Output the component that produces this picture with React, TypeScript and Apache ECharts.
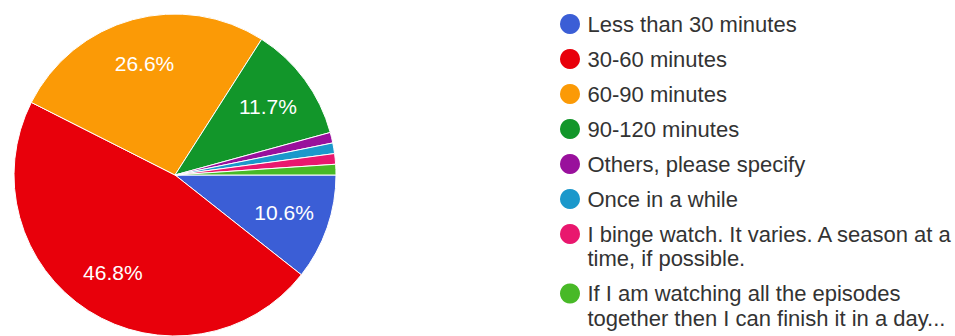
import React, { useEffect, useRef } from "react";
import * as echarts from "echarts";

// Answers to "How long does it take you to watch a season?" (response counts)
const categories = [
  "Less than 30 minutes",
  "30-60 minutes",
  "60-90 minutes",
  "90-120 minutes",
  "Others, please specify",
  "Once in a while",
  "I binge watch. It varies. A season at a\ntime, if possible.",
  "If I am watching all the episodes\ntogether then I can finish it in a day...",
];
const counts = [10, 44, 25, 11, 1, 1, 1, 1];
const colors = [
  "#3b5ed6",
  "#e8000b",
  "#fb9a06",
  "#12962a",
  "#99109c",
  "#1b98cb",
  "#e9176e",
  "#48b927",
];

const FONT = "'Liberation Sans', Arial, Helvetica, sans-serif";
const LINE = 24.5;

export default function App() {
  const ref = useRef<HTMLDivElement>(null);

  useEffect(() => {
    document.body.style.margin = "0";
    const chart = echarts.init(ref.current!, null, { renderer: "svg" });
    const total = counts.reduce((a, b) => a + b, 0);
    const pieData = categories.map((name, i) => ({
      name,
      value: counts[i],
      itemStyle: { color: colors[i] },
    }));

    chart.setOption({
      animation: false,
      backgroundColor: "#ffffff",
      legend: {
        orient: "vertical",
        left: 560,
        top: 13,
        padding: 0,
        itemGap: 13,
        itemWidth: 25,
        itemHeight: 20,
        icon: "circle",
        itemStyle: { borderWidth: 0 },
        selectedMode: false,
        data: categories.map((name) =>
          name.includes("\n")
            ? { name, textStyle: { padding: [LINE, 0, 0, 0] } }
            : { name }
        ),
        formatter: (name: string) =>
          name
            .split("\n")
            .map((s) => `{t|${s}}`)
            .join("\n"),
        textStyle: {
          fontFamily: FONT,
          fontSize: 22,
          color: "#333333",
          rich: {
            t: {
              fontFamily: FONT,
              fontSize: 22,
              lineHeight: LINE,
              color: "#333333",
            },
          },
        },
      },
      series: [
        {
          type: "pie",
          center: [175, 175],
          radius: 161,
          startAngle: 0,
          clockwise: true,
          avoidLabelOverlap: false,
          silent: true,
          itemStyle: { borderColor: "#ffffff", borderWidth: 1 },
          label: { show: false },
          labelLine: { show: false },
          emphasis: { disabled: true },
          data: pieData,
        },
        {
          // transparent ring that carries the percentage labels further out
          type: "pie",
          center: [175, 175],
          radius: [64, 161],
          startAngle: 0,
          clockwise: true,
          avoidLabelOverlap: false,
          silent: true,
          itemStyle: { color: "rgba(0,0,0,0)", borderWidth: 0 },
          labelLine: { show: false },
          emphasis: { disabled: true },
          label: {
            show: true,
            position: "inside",
            color: "#ffffff",
            fontFamily: FONT,
            fontSize: 21,
            formatter: (p: any) => {
              const pct = (p.value / total) * 100;
              return pct >= 5 ? `${pct.toFixed(1)}%` : "";
            },
          },
          data: categories.map((name, i) => ({ name, value: counts[i] })),
        },
      ],
    });

    return () => chart.dispose();
  }, []);

  return <div ref={ref} style={{ width: 955, height: 336 }} />;
}
